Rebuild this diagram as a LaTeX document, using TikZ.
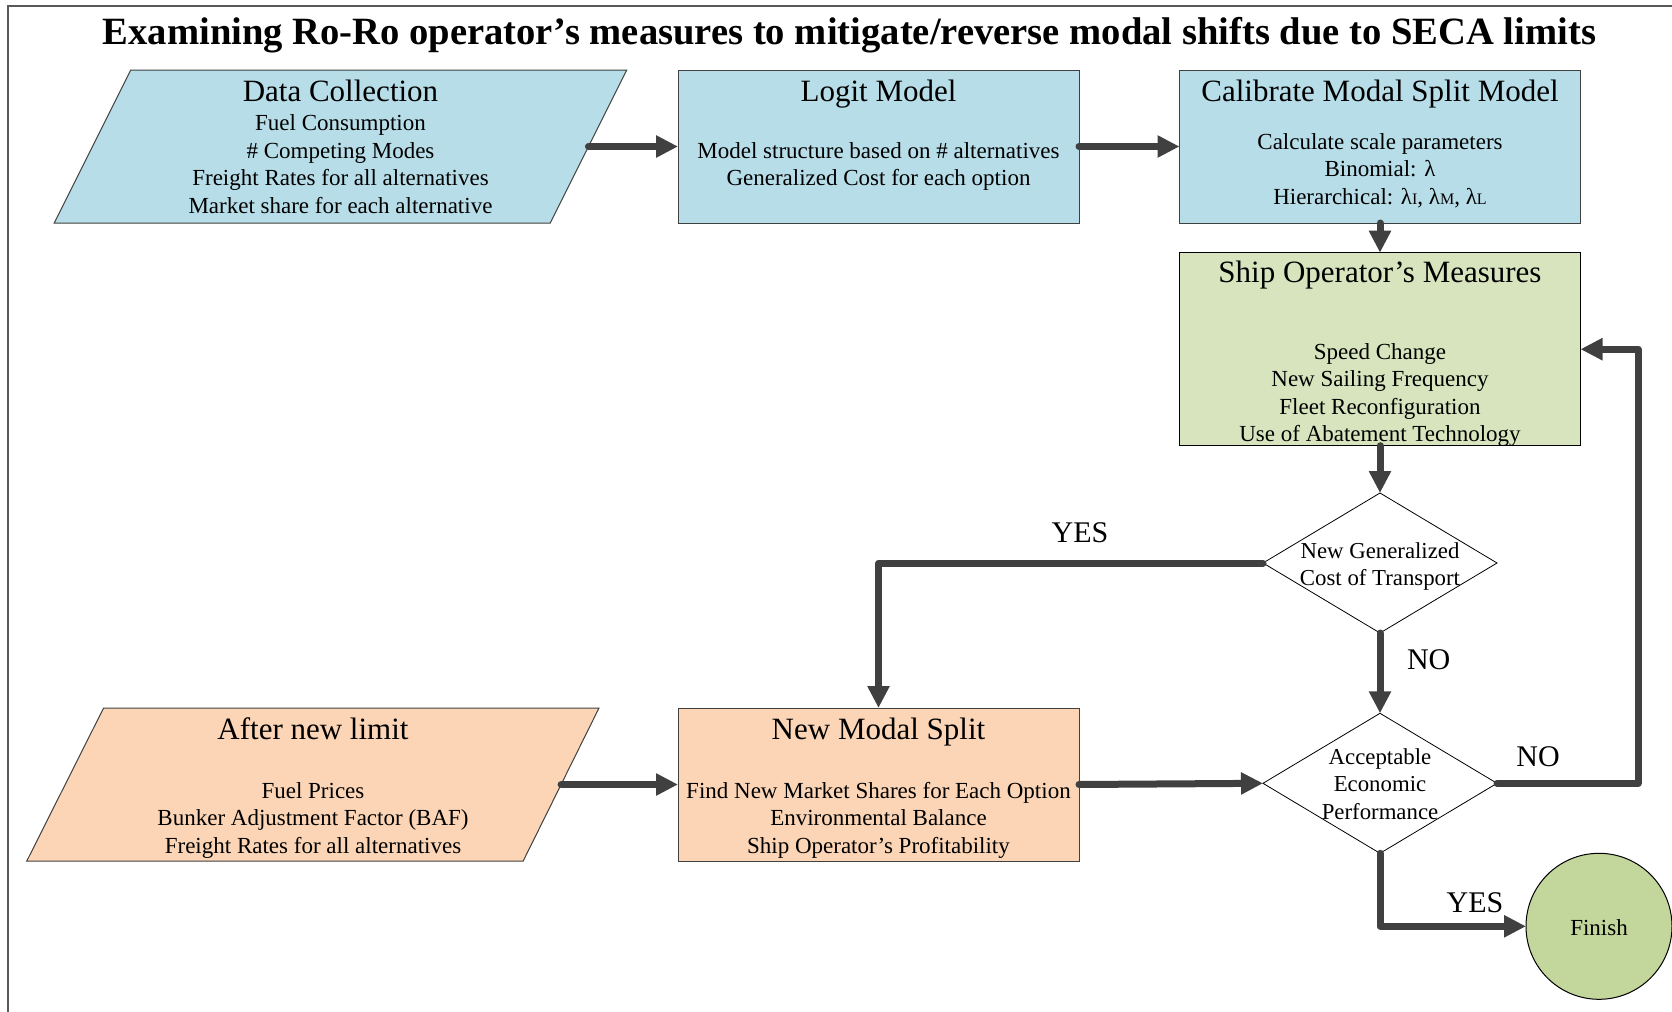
\documentclass[tikz,border=0pt]{standalone}
\usepackage{fontspec}
\setmainfont{Liberation Serif}
\usetikzlibrary{shapes.geometric,arrows.meta}
\definecolor{cblue}{HTML}{B7DDE8}
\definecolor{cgreen}{HTML}{D7E4BD}
\definecolor{corange}{HTML}{FBD5B5}
\definecolor{cfin}{HTML}{C3D69B}
\definecolor{carrow}{HTML}{404040}
\newcommand{\smsub}[1]{{\fontsize{8}{8}\selectfont #1}}
\begin{document}
\begin{tikzpicture}[x=0.5pt,y=-0.5pt,
  every node/.style={inner sep=0pt, outer sep=0pt},
  boxr/.style={draw=black!75, line width=0.5pt, rectangle, minimum width=200.5pt},
  para/.style={draw=black!75, line width=0.5pt},
  dia/.style={draw=black, line width=0.4pt, diamond, minimum width=117pt, minimum height=70pt, fill=white},
  hdr/.style={font=\fontsize{15.5}{18}\selectfont, anchor=base},
  bodytxt/.style={font=\fontsize{11.5}{13.75}\selectfont, align=center, anchor=base},
  diatxt/.style={font=\fontsize{11.4}{13.75}\selectfont, align=center, anchor=base},
  lbl/.style={font=\fontsize{15}{18}\selectfont, anchor=base},
  arr/.style={draw=carrow, line width=3.5pt, line cap=round, line join=round, -{Triangle[length=11pt,width=10.5pt]}}
]
\useasboundingbox (0,0) rectangle (1672,1012);
\draw[draw=black!65, line width=0.75pt] (8,1012) -- (8,6) -- (1672,6);
\node[font=\bfseries\fontsize{19.3}{22}\selectfont, anchor=base] (title) at (849.5,44) {Examining Ro-Ro operator’s measures to mitigate/reverse modal shifts due to SECA limits};

% shapes
\path[para, fill=cblue] (130.7,70) -- (626.7,70) -- (550.2,223) -- (54.2,223) -- cycle;
\coordinate (dc) at (588.45,146.5);
\node[boxr, fill=cblue, minimum height=76.5pt] (lm) at (878.5,146.5) {};
\node[boxr, fill=cblue, minimum height=76.5pt] (cal) at (1380,146.5) {};
\node[boxr, fill=cgreen, draw=black, minimum height=96.5pt] (som) at (1380,349.2) {};
\node[dia] (d1) at (1380,563) {};
\node[dia] (d2) at (1380,783.3) {};
\path[para, fill=corange] (103.6,708) -- (599,708) -- (523.2,861) -- (26.8,861) -- cycle;
\coordinate (anl) at (561.1,784.5);
\node[boxr, fill=corange, minimum height=76.5pt] (nms) at (878.5,784.5) {};
\node[circle, draw=black, line width=0.5pt, fill=cfin, minimum size=73pt] (fin) at (1599,926.3) {};

% texts
\node[hdr] (dch) at (340.5,101) {Data Collection};
\node[bodytxt] (dcb) at (340.5,213) {Fuel Consumption\\\# Competing Modes\\Freight Rates for all alternatives\\Market share for each alternative};
\node[hdr] (lmh) at (878.5,101) {Logit Model};
\node[bodytxt] (lmb) at (878.5,185.7) {Model structure based on \# alternatives\\Generalized Cost for each option};
\node[hdr] (calh) at (1380,101) {Calibrate Modal Split Model};
\node[bodytxt] (calb) at (1380,204) {Calculate scale parameters\\Binomial: λ\\Hierarchical: λ\smsub{I}, λ\smsub{M}, λ\smsub{L}};
\node[hdr] (somh) at (1380,282.7) {Ship Operator’s Measures};
\node[bodytxt] (somb) at (1380,441.7) {Speed Change\\New Sailing Frequency\\Fleet Reconfiguration\\Use of Abatement Technology};
\node[diatxt] (d1t) at (1380,585.7) {New Generalized\\Cost of Transport};
\node[diatxt] (d2t) at (1380,819.3) {Acceptable\\Economic\\Performance};
\node[hdr] (anlh) at (313,739.3) {After new limit};
\node[bodytxt] (anlb) at (313,853.3) {Fuel Prices\\Bunker Adjustment Factor (BAF)\\Freight Rates for all alternatives};
\node[hdr] (nmsh) at (878.5,739.3) {New Modal Split};
\node[bodytxt] (nmsb) at (878.5,853.3) {Find New Market Shares for Each Option\\Environmental Balance\\Ship Operator’s Profitability};
\node[bodytxt] (fint) at (1599,935) {Finish};

% labels
\node[lbl] (yes1) at (1080,542.7) {YES};
\node[lbl] (no1) at (1428.7,669) {NO};
\node[lbl] (no2) at (1538,766.7) {NO};
\node[lbl] (yes2) at (1475,912.3) {YES};

% connectors
\draw[arr] (dc) -- (lm.west);
\draw[arr] (lm.east) -- (cal.west);
\draw[arr] (cal.south) -- (som.north);
\draw[arr] (som.south) -- (d1.north);
\draw[arr] (d1.west) -| (nms.north);
\draw[arr] (d1.south) -- (d2.north);
\draw[arr] (anl) -- (nms.west);
\draw[arr] (nms.east) -- (d2.west);
\draw[arr] (d2.east) -- ++(141,0) |- (som.east);
\draw[arr] (d2.south) |- (fin.west);
\end{tikzpicture}
\end{document}
